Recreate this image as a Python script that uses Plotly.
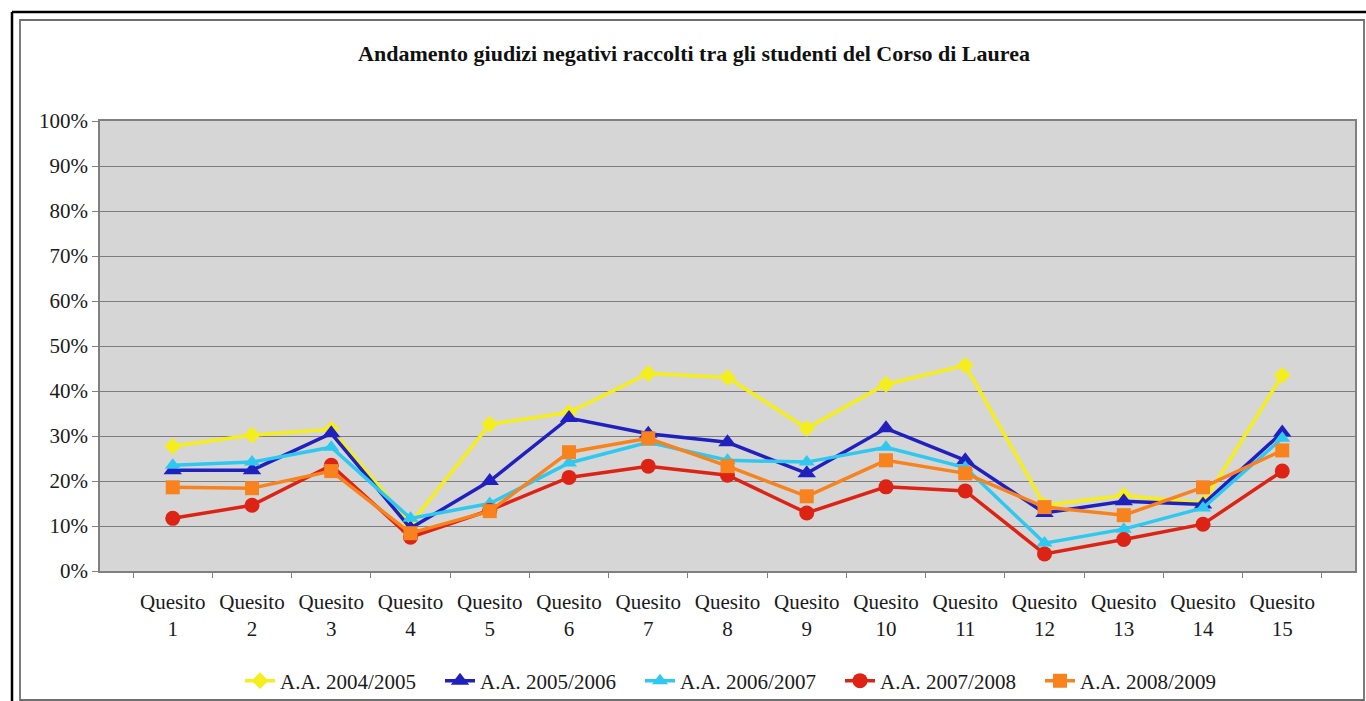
import plotly.graph_objects as go

categories = [f"Quesito<br>{i}" for i in range(1, 16)]
series_names = ["A.A. 2004/2005", "A.A. 2005/2006", "A.A. 2006/2007", "A.A. 2007/2008", "A.A. 2008/2009"]
aa_2004_2005 = [27.7, 30.2, 31.5, 10.5, 32.6, 35.2, 43.9, 43.0, 31.7, 41.5, 45.7, 14.6, 16.8, 15.1, 43.5]
aa_2005_2006 = [22.4, 22.4, 30.6, 9.5, 20.0, 34.0, 30.5, 28.6, 21.7, 31.7, 24.6, 12.9, 15.5, 14.8, 30.8]
aa_2006_2007 = [23.5, 24.2, 27.5, 11.7, 15.0, 24.0, 28.6, 24.6, 24.2, 27.5, 23.0, 6.2, 9.3, 14.0, 29.5]
aa_2007_2008 = [11.7, 14.6, 23.5, 7.5, 13.5, 20.8, 23.3, 21.3, 12.9, 18.7, 17.8, 3.8, 7.0, 10.4, 22.2]
aa_2008_2009 = [18.6, 18.4, 22.2, 8.4, 13.3, 26.4, 29.5, 23.3, 16.6, 24.6, 21.7, 14.2, 12.4, 18.6, 26.8]
y_ticks = list(range(0, 101, 10))
y_tick_labels = [f"{v}%" for v in y_ticks]

values = [aa_2004_2005, aa_2005_2006, aa_2006_2007, aa_2007_2008, aa_2008_2009]
colors = ["#F4EE1E", "#2020BE", "#2EC8F0", "#DD2414", "#F7821E"]
symbols = ["diamond", "triangle-up", "triangle-up", "circle", "square"]
sizes = [13, 16, 14, 15, 14]

FONT = "Liberation Serif"

fig = go.Figure()
for name, vals, c, s, sz in zip(series_names, values, colors, symbols, sizes):
    fig.add_trace(go.Scatter(
        x=categories, y=vals, name=name, mode="lines+markers",
        line=dict(color=c, width=3.5),
        marker=dict(color=c, symbol=s, size=sz),
    ))

W, H = 1366, 701
L, R, T, B = 100, 11, 121, 130
pw, ph = W - L - R, H - T - B

def px(x):
    return (x - L) / pw

def py(y):
    return (H - B - y) / ph

shapes = [
    dict(type="line", xref="paper", yref="paper", x0=px(12), x1=px(1366), y0=py(12), y1=py(12),
         line=dict(color="black", width=2.5)),
    dict(type="line", xref="paper", yref="paper", x0=px(12), x1=px(12), y0=py(12), y1=py(701),
         line=dict(color="black", width=2.5)),
    dict(type="rect", xref="paper", yref="paper", x0=px(20), x1=px(1364), y0=py(20), y1=py(700),
         line=dict(color="#6e6e6e", width=1.8)),
]

fig.update_layout(
    width=W, height=H,
    margin=dict(l=L, r=R, t=T, b=B, autoexpand=False),
    paper_bgcolor="white",
    plot_bgcolor="#D6D6D6",
    font=dict(family=FONT, size=21, color="#1a1a1a"),
    title=dict(text="<b>Andamento giudizi negativi raccolti tra gli studenti del Corso di Laurea</b>",
               xref="container", x=694 / W, xanchor="center",
               yref="container", y=1 - 53 / H, yanchor="middle",
               font=dict(family=FONT, size=22, color="#111111")),
    showlegend=True,
    legend=dict(orientation="h", xref="container", x=740 / W, xanchor="center",
                yref="container", y=1 - 681 / H, yanchor="middle",
                font=dict(family=FONT, size=21), bgcolor="rgba(0,0,0,0)",
                traceorder="normal", entrywidth=155, entrywidthmode="pixels"),
    shapes=shapes,
    xaxis=dict(
        type="category", tickson="boundaries", ticks="outside", ticklen=5, tickcolor="#808080",
        showline=True, linecolor="#808080", linewidth=1.5, mirror=True,
        showgrid=False, tickfont=dict(family=FONT, size=21), ticklabelstandoff=11,
        automargin=False,
    ),
    yaxis=dict(
        range=[0, 100], tickmode="array", tickvals=y_ticks, ticktext=y_tick_labels,
        ticks="outside", ticklen=6, tickcolor="#808080",
        showline=True, linecolor="#808080", linewidth=1.5, mirror=True,
        showgrid=True, gridcolor="#7d7d7d", gridwidth=1.3, zeroline=False,
        tickfont=dict(family=FONT, size=21), automargin=False,
    ),
)

post = (
    "document.documentElement.style.margin='0';"
    "document.documentElement.style.padding='0';"
    "document.documentElement.style.overflow='hidden';"
    "document.body.style.margin='0';"
    "document.body.style.padding='0';"
    "document.body.style.overflow='hidden';"
)

fig.write_html("out.html", post_script=post, config={"displayModeBar": False})
